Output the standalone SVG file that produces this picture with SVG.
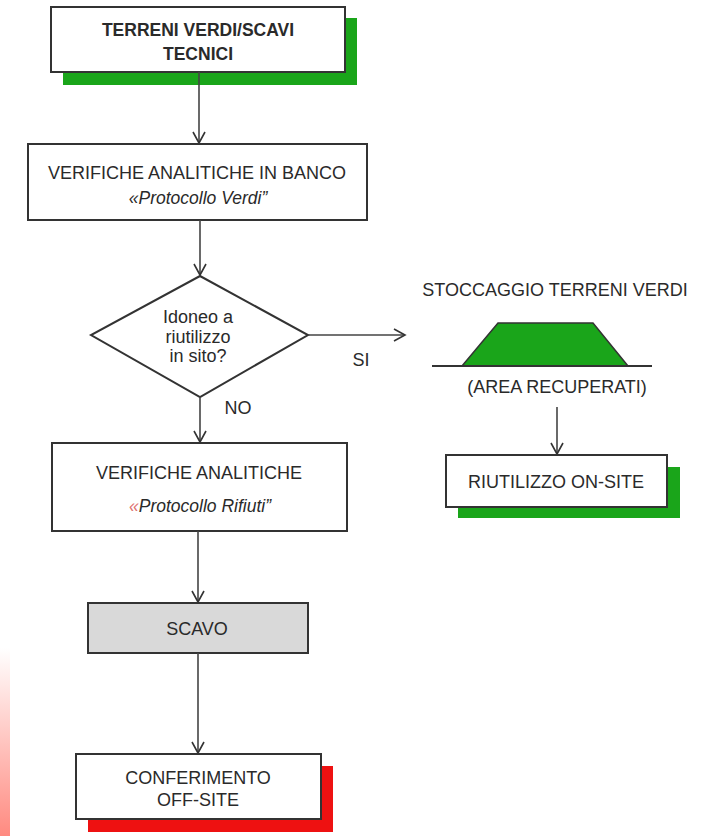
<svg xmlns="http://www.w3.org/2000/svg" width="711" height="836" viewBox="0 0 711 836">
<defs>
<linearGradient id="strip" x1="0" y1="0" x2="0" y2="1">
<stop offset="0" stop-color="#ffffff"/>
<stop offset="1" stop-color="#ff8a80"/>
</linearGradient>
<marker id="arr" markerWidth="14" markerHeight="14" refX="12" refY="7" orient="auto" markerUnits="userSpaceOnUse">
<path d="M1,1 L12,7 L1,13" fill="none" stroke="#333" stroke-width="1.6"/>
</marker>
<style>
.box{fill:#fff;stroke:#333;stroke-width:2}
.t{font-family:"Liberation Sans",Arial,sans-serif;font-size:18px;fill:#2a2a2a;text-anchor:middle}
.b{font-weight:bold;font-size:17.5px}
.i{font-style:italic;font-size:17.5px}
.c{fill:none;stroke:#444;stroke-width:1.6}
</style>
</defs>
<rect width="711" height="836" fill="#fff"/>
<rect x="0" y="648" width="10" height="188" fill="url(#strip)"/>

<g id="terreni">
<rect x="63" y="18" width="294" height="67" fill="#1aa51a"/>
<rect class="box" x="51" y="7" width="294" height="65"/>
<text class="t b" x="198" y="36">TERRENI  VERDI/SCAVI</text>
<text class="t b" x="198" y="60">TECNICI</text>
</g>

<g id="verifiche-banco">
<rect class="box" x="28" y="144" width="339" height="76"/>
<text class="t" x="197" y="179">VERIFICHE ANALITICHE IN BANCO</text>
<text class="t i" x="198" y="204">«Protocollo Verdi”</text>
</g>

<g id="idoneo">
<polygon class="box" points="200,276 308,335 200,397 91,335"/>
<text class="t" x="198" y="323" font-size="16.5">Idoneo a</text>
<text class="t" x="198" y="343" font-size="16.5">riutilizzo</text>
<text class="t" x="198" y="362" font-size="16.5">in sito?</text>
</g>

<g id="stoccaggio">
<text class="t" x="555" y="296">STOCCAGGIO TERRENI VERDI</text>
<polygon points="498,323 593,323 628,366 462,366" fill="#1aa51a" stroke="#333" stroke-width="1.5"/>
<line x1="432" y1="366" x2="652" y2="366" stroke="#333" stroke-width="2"/>
<text class="t" x="557" y="393">(AREA RECUPERATI)</text>
</g>

<g id="riutilizzo">
<rect x="458" y="467" width="222" height="51" fill="#1aa51a"/>
<rect class="box" x="446" y="455" width="221" height="52"/>
<text class="t" x="556" y="488">RIUTILIZZO ON-SITE</text>
</g>

<g id="verifiche-rifiuti">
<rect class="box" x="52" y="443" width="295" height="88"/>
<text class="t" x="199" y="479">VERIFICHE ANALITICHE</text>
<text class="t i" x="200" y="512"><tspan fill="#e07070">«</tspan>Protocollo Rifiuti”</text>
</g>

<g id="scavo">
<rect x="88" y="603" width="220" height="50" fill="#d9d9d9" stroke="#333" stroke-width="2"/>
<text class="t" x="197" y="635">SCAVO</text>
</g>

<g id="conferimento">
<rect x="88" y="766" width="245" height="66" fill="#ee1111"/>
<rect class="box" x="76" y="754" width="245" height="65"/>
<text class="t" x="198" y="784">CONFERIMENTO</text>
<text class="t" x="198" y="806">OFF-SITE</text>
</g>

<g id="connectors">
<line class="c" x1="199" y1="72" x2="199" y2="143" marker-end="url(#arr)"/>
<line class="c" x1="200" y1="220" x2="200" y2="275" marker-end="url(#arr)"/>
<line class="c" x1="308" y1="335" x2="405" y2="335" marker-end="url(#arr)"/>
<line class="c" x1="200" y1="397" x2="200" y2="442" marker-end="url(#arr)"/>
<line class="c" x1="557" y1="407" x2="557" y2="454" marker-end="url(#arr)"/>
<line class="c" x1="198" y1="531" x2="198" y2="602" marker-end="url(#arr)"/>
<line class="c" x1="198" y1="653" x2="198" y2="753" marker-end="url(#arr)"/>
<text class="t" x="361" y="366" font-size="16.5">SI</text>
<text class="t" x="238" y="414" font-size="16.5">NO</text>
</g>
</svg>
